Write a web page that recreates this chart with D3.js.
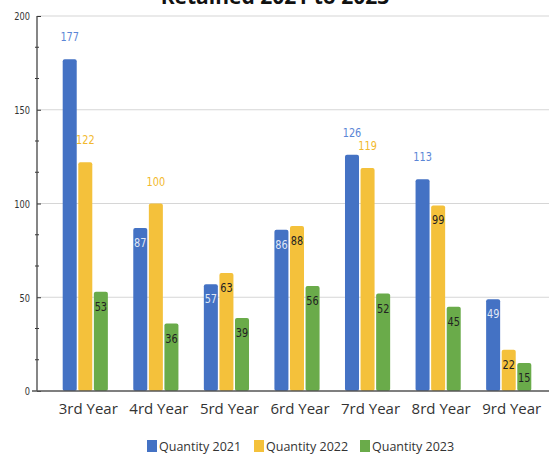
<!DOCTYPE html>
<html>
<head>
<meta charset="utf-8">
<script src="https://cdn.jsdelivr.net/npm/d3@7"></script>
<style>
  body { margin: 0; background: #fff; }
  svg { display: block; }
</style>
</head>
<body>
<div id="chart"></div>
<script>
// data
const categories = ['3rd Year', '4rd Year', '5rd Year', '6rd Year', '7rd Year', '8rd Year', '9rd Year'];
const seriesNames = ['Quantity 2021', 'Quantity 2022', 'Quantity 2023'];
const q2021 = [177, 87, 57, 86, 126, 113, 49];
const q2022 = [122, 100, 63, 88, 119, 99, 22];
const q2023 = [53, 36, 39, 56, 52, 45, 15];
const yTicks = [0, 50, 100, 150, 200];

const colors = ['#4472c4', '#f4c13b', '#6aab4a'];
// which labels sit above the bar (the rest are inside the top)
const above = [
  [true, false, false, false, true, true, false],
  [true, true, false, false, true, false, false],
  [false, false, false, false, false, false, false]
];

const width = 549, height = 454;
const svg = d3.select('#chart').append('svg')
  .attr('width', width)
  .attr('height', height);

const values = [q2021, q2022, q2023];
const rows = categories.map(function(c, i){
  return {cat: c, vals: values.map(function(v){ return v[i]; })};
});

const y = d3.scaleLinear().domain([0, 200]).range([391, 16]);
const x = d3.scaleBand().domain(categories).range([50, 544])
  .paddingInner(0.36).paddingOuter(0.18);
const xs = d3.scaleBand().domain([0, 1, 2]).range([0, x.bandwidth()]).paddingInner(0.1);

// narrow labels: squeeze text sideways
const squeeze = 'scale(0.75,1)';

// title (cut off at top)
svg.append('text')
  .attr('x', 275).attr('y', 4)
  .attr('text-anchor', 'middle')
  .attr('font-family', 'Open Sans, sans-serif')
  .attr('font-weight', 'bold')
  .attr('font-size', 21)
  .attr('fill', '#111')
  .text('Retained 2021 to 2023');

// gridlines
svg.append('g').selectAll('line')
  .data(yTicks.filter(function(d){ return d > 0; }))
  .enter().append('line')
  .attr('x1', 37).attr('x2', 549)
  .attr('y1', function(d){ return y(d); })
  .attr('y2', function(d){ return y(d); })
  .attr('stroke', '#d6d6d6')
  .attr('stroke-width', 1.2);

// y axis
const yAxis = svg.append('g')
  .attr('transform', 'translate(37,0)')
  .call(d3.axisLeft(y).tickValues(yTicks).tickSize(5).tickPadding(5));
yAxis.select('.domain').remove();
yAxis.selectAll('.tick line').attr('x2', 4).attr('stroke', '#333');
yAxis.selectAll('.tick text').remove();
yAxis.selectAll('.tick').append('text')
  .attr('transform', 'translate(-7,0) ' + squeeze)
  .attr('dy', '0.35em')
  .attr('text-anchor', 'end')
  .attr('font-family', 'DejaVu Sans, sans-serif')
  .attr('font-size', 11)
  .attr('fill', '#333')
  .text(function(d){ return d; });

// minor ticks
const minor = d3.range(0, 200, 50 / 3).filter(function(d, i){ return i % 3 !== 0; });
svg.append('g').selectAll('line')
  .data(minor)
  .enter().append('line')
  .attr('x1', 35).attr('x2', 39)
  .attr('y1', function(d){ return y(d); })
  .attr('y2', function(d){ return y(d); })
  .attr('stroke', '#333');

svg.append('line')
  .attr('x1', 37).attr('x2', 37)
  .attr('y1', y(200)).attr('y2', y(0))
  .attr('stroke', '#444').attr('stroke-width', 1.3);

// bars
const groups = svg.append('g').selectAll('g')
  .data(rows)
  .enter().append('g')
  .attr('transform', function(d){ return 'translate(' + x(d.cat) + ',0)'; });

groups.selectAll('rect')
  .data(function(d){ return d.vals; })
  .enter().append('rect')
  .attr('x', function(d, i){ return xs(i); })
  .attr('y', function(d){ return y(d); })
  .attr('width', xs.bandwidth())
  .attr('height', function(d){ return y(0) - y(d); })
  .attr('rx', 2)
  .attr('fill', function(d, i){ return colors[i]; });

// value labels
groups.each(function(row, ci){
  d3.select(this).selectAll('text')
    .data(row.vals)
    .enter().append('text')
    .attr('transform', function(d, i){
      const ty = above[i][ci] ? y(d) - 18 : y(d) + 19;
      return 'translate(' + (xs(i) + xs.bandwidth() / 2) + ',' + ty + ') ' + squeeze;
    })
    .attr('text-anchor', 'middle')
    .attr('font-family', 'DejaVu Sans, sans-serif')
    .attr('font-size', 13)
    .attr('fill', function(d, i){
      if (above[i][ci]) return i === 0 ? '#5b86d6' : '#f2b92e';
      return i === 0 ? '#ffffff' : '#222';
    })
    .attr('fill-opacity', function(d, i){ return (!above[i][ci] && i === 0) ? 0.85 : 1; })
    .text(function(d){ return d; });
});

// x axis
svg.append('line')
  .attr('x1', 32).attr('x2', 549)
  .attr('y1', y(0)).attr('y2', y(0))
  .attr('stroke', '#555').attr('stroke-width', 1.3);

svg.append('g').selectAll('text')
  .data(categories)
  .enter().append('text')
  .attr('x', function(d){ return x(d) + x.bandwidth() / 2 + 3; })
  .attr('y', 414)
  .attr('text-anchor', 'middle')
  .attr('font-family', 'Open Sans, sans-serif')
  .attr('font-size', 15)
  .attr('fill', '#333')
  .text(function(d){ return d; });

// legend
const legendX = [147, 254, 360];
const legend = svg.append('g').selectAll('g')
  .data(seriesNames)
  .enter().append('g')
  .attr('transform', function(d, i){ return 'translate(' + legendX[i] + ',440)'; });
legend.append('rect')
  .attr('width', 10).attr('height', 12)
  .attr('fill', function(d, i){ return colors[i]; });
legend.append('text')
  .attr('x', 12).attr('y', 11)
  .attr('font-family', 'Open Sans, sans-serif')
  .attr('font-size', 12.5)
  .attr('fill', '#333')
  .text(function(d){ return d; });
</script>
</body>
</html>
